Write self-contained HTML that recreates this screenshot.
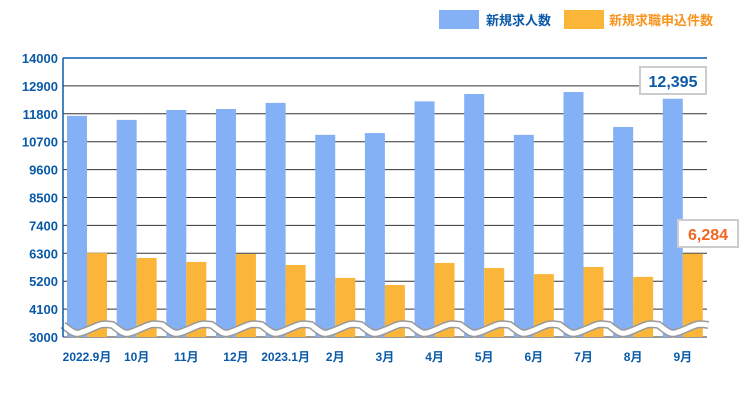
<!DOCTYPE html>
<html><head><meta charset="utf-8"><style>
body{margin:0;background:#fff;font-family:"Liberation Sans","Noto Sans CJK JP",sans-serif}
</style></head><body>
<svg id="c" width="740" height="400" viewBox="0 0 740 400" xmlns="http://www.w3.org/2000/svg" style="font-family:'Liberation Sans','Noto Sans CJK JP',sans-serif">
<g id="legend">
<rect x="439" y="10" width="40" height="19" fill="#84b0f5"/>
<text x="486" y="25" font-size="13" font-weight="bold" fill="#0a5aa8">新規求人数</text>
<rect x="564" y="10" width="40" height="19" fill="#fbb63a"/>
<text x="609" y="25" font-size="13" font-weight="bold" fill="#f7941d">新規求職申込件数</text>
</g>
<g id="grid"></g><g id="bars"></g><g id="wave"></g><g id="axis"></g><g id="labels"></g>
<g>
<rect x="640" y="67" width="66" height="27" fill="#fff" stroke="#ccc" stroke-width="2"/>
<text x="673" y="87" font-size="16" font-weight="bold" fill="#0a5aa8" text-anchor="middle">12,395</text>
</g>
<g>
<rect x="678" y="220" width="60" height="27" fill="#fff" stroke="#ccc" stroke-width="2"/>
<text x="708" y="240" font-size="16" font-weight="bold" fill="#f26522" text-anchor="middle">6,284</text>
</g>
</svg>
<script>
const categories=["2022.9月","10月","11月","12月","2023.1月","2月","3月","4月","5月","6月","7月","8月","9月"];
const jobs=[11720,11560,11950,11990,12230,10970,11040,12290,12580,10970,12660,11280,12395];
const applications=[6310,6115,5960,6270,5840,5330,5050,5920,5720,5480,5760,5370,6284];
const yTicks=[3000,4100,5200,6300,7400,8500,9600,10700,11800,12900,14000];
const NS="http://www.w3.org/2000/svg";
const X0=63,X1=707,Y0=337,Y1=58,VMIN=3000,VMAX=14000;
function y(v){return Y0-(v-VMIN)/(VMAX-VMIN)*(Y0-Y1);}
const step=49.65;
function gx(i){return 67+i*step;}
function mk(tag,at,parent){const e=document.createElementNS(NS,tag);for(const k in at)e.setAttribute(k,at[k]);document.getElementById(parent).appendChild(e);return e;}
yTicks.forEach((t,i)=>{
 const l=mk('line',{x1:X0,x2:X1,y1:y(t),y2:y(t),stroke:i==yTicks.length-1?'#0a5aa8':'#333','stroke-width':i==yTicks.length-1?1.5:1},'grid');
 
 
 const tx=mk('text',{x:X0-5,y:y(t)+5,'font-size':13,'font-weight':'bold',fill:'#0a5aa8','text-anchor':'end'},'axis');
 tx.textContent=t;
 
 
});
const ax=mk('line',{x1:X0,x2:X0,y1:Y1,y2:Y0,stroke:'#0a5aa8','stroke-width':1.5},'axis');


categories.forEach((c,i)=>{
 const b=mk('rect',{x:gx(i),y:y(jobs[i]),width:20,height:Y0-y(jobs[i]),fill:'#84b0f5'},'bars');
 
 
 const o=mk('rect',{x:gx(i)+20,y:y(applications[i]),width:20,height:Y0-y(applications[i]),fill:'#fbb63a'},'bars');
 
 
 const t=mk('text',{x:gx(i)+20,y:361,'font-size':12,'font-weight':'bold',fill:'#0a5aa8','text-anchor':'middle'},'labels');
 t.textContent=c;
 
 
});
let d='M'+X0+' 325';
for(let x=X0;x<X1;x+=step){d+=' C'+(x+step/4)+' 335 '+(x+step/4)+' 335 '+(x+step/2)+' 330 S'+(x+step*3/4)+' 323 '+(x+step)+' 325';}
const w1=mk('path',{d:d,fill:'none',stroke:'#999','stroke-width':8},'wave');


const w2=mk('path',{d:d,fill:'none',stroke:'#fff','stroke-width':5},'wave');


</script>
</body></html>
